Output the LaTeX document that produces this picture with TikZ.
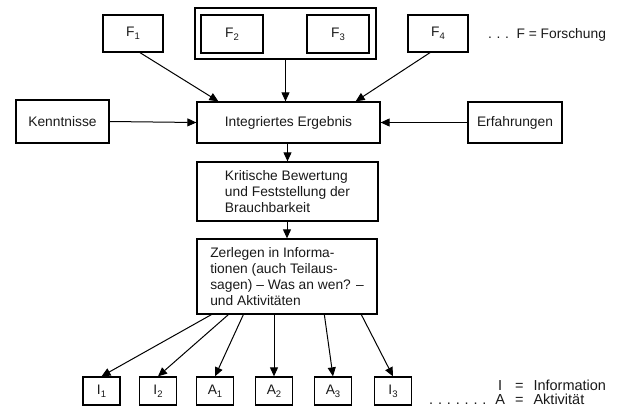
\documentclass[tikz,border=0pt]{standalone}
\usepackage{fontspec}
\setmainfont{Liberation Sans}
\usetikzlibrary{arrows.meta,calc}
\newcommand{\subidx}[1]{\raisebox{-0.4ex}{\fontsize{9.5}{9.5}\selectfont #1}}
\begin{document}
\begin{tikzpicture}[x=1pt,y=-1pt,
  every node/.style={font=\fontsize{13.8}{15.8}\selectfont, inner sep=0pt, text=black!90},
  box/.style={draw, line width=1.3pt, minimum width=#1},
  fbox/.style={box=60pt, minimum height=37pt},
  smallbox/.style={box=37pt, minimum height=28pt},
  arr/.style={line width=1pt, -{Triangle[length=9pt,width=8pt]}}]
\useasboundingbox (0,0) rectangle (619,415);
% top row
\node[fbox] (F1) at (133,33.5) {F\subidx{1}};
\node[box=181pt, minimum height=51pt] (outer) at (285.5,33.5) {};
\node[box=62pt, minimum height=38pt] (F2) at (232,34) {F\subidx{2}};
\node[box=62pt, minimum height=38pt] (F3) at (338,34) {F\subidx{3}};
\node[fbox] (F4) at (438,33.5) {F\subidx{4}};
\node[anchor=west] (legF) at (488,35) {.\,\,.\,\,.\ \ F = Forschung};
% middle
\node[box=93pt, minimum height=43pt] (K) at (62.5,121.5) {Kenntnisse};
\node[box=183pt, minimum height=41pt] (I) at (288.5,122.5) {Integriertes Ergebnis};
\node[box=94pt, minimum height=41pt] (E) at (515,122.5) {Erfahrungen};
\node[box=181pt, minimum height=59pt, align=left] (B) at (287.5,191.5) {Kritische Bewertung\\und Feststellung der\\Brauchbarkeit};
\node[box=180pt, minimum height=75pt, align=left] (Z) at (287,276.5) {Zerlegen in Informa-\\tionen (auch Teilaus-\\sagen) -- Was an wen? --\\und Aktivitäten};
% bottom row
\node[smallbox] (I1) at (101.5,391) {I\subidx{1}};
\node[smallbox] (I2) at (158,391) {I\subidx{2}};
\node[smallbox] (A1) at (215,391) {A\subidx{1}};
\node[smallbox] (A2) at (274,391) {A\subidx{2}};
\node[smallbox] (A3) at (333,391) {A\subidx{3}};
\node[smallbox] (I3) at (393,391) {I\subidx{3}};
\node[anchor=west, font=\fontsize{14.5}{15}\selectfont] (legIA) at (429,394.5) {\begin{tabular}{@{}r@{\hspace{9pt}}c@{\hspace{10pt}}c@{\hspace{10pt}}l@{}}
 & I & = & Information\\[-1pt]
.\,\,.\,\,.\,\,.\,\,.\,\,.\,\,. & A & = & Aktivität
\end{tabular}};
% connectors
\draw[arr] ($(F1.south)+(7,0)$) -- ($(I.north west)+(22,0)$);
\draw[arr] ($(F4.south)+(-8,0)$) -- ($(I.north east)+(-25,0)$);
\draw[arr] (outer.south) -- (outer.south |- I.north);
\draw[arr] (K.east) -- (I.west);
\draw[arr] (E.west) -- (I.east);
\draw[arr] (B.north |- I.south) -- (B.north);
\draw[arr] (Z.north |- B.south) -- (Z.north);
\draw[arr] ($(Z.south west)+(15,0)$) -- (I1.north);
\draw[arr] ($(Z.south west)+(32,0)$) -- (I2.north);
\draw[arr] ($(Z.south west)+(47,0)$) -- (A1.north);
\draw[arr] (A2.north |- Z.south) -- (A2.north);
\draw[arr] ($(Z.south west)+(128,0)$) -- (A3.north);
\draw[arr] ($(Z.south west)+(165,0)$) -- (I3.north);
\end{tikzpicture}
\end{document}
